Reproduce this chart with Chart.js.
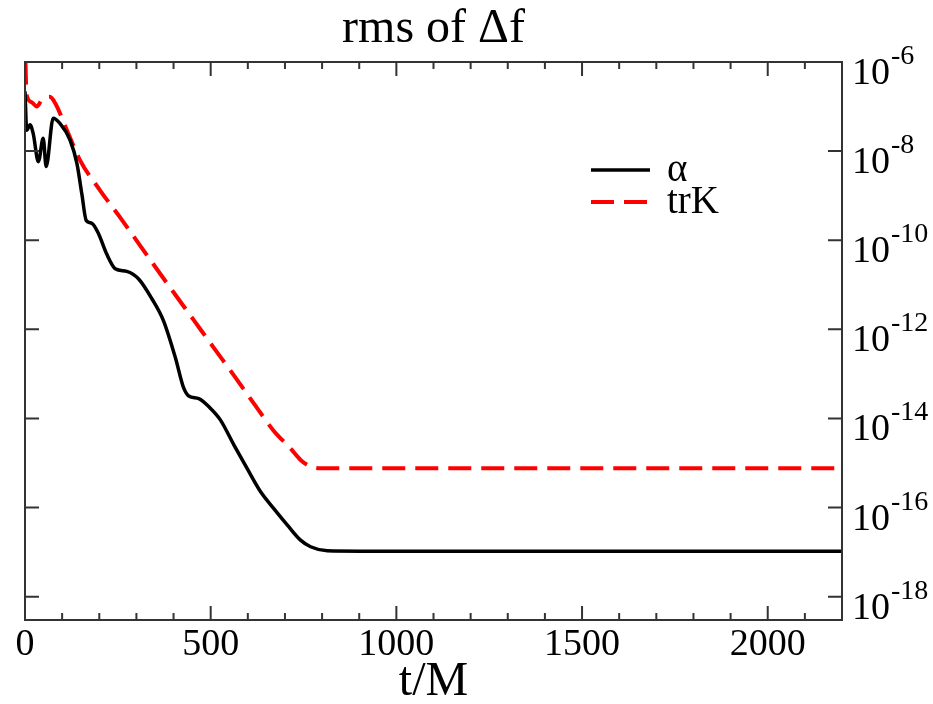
<!DOCTYPE html>
<html>
<head>
<meta charset="utf-8">
<title>rms of Δf</title>
<script src="https://cdn.jsdelivr.net/npm/chart.js@4.4.1/dist/chart.umd.min.js"></script>
<style>
  html, body { margin: 0; padding: 0; background: #fff; }
  #wrap { width: 933px; height: 704px; }
</style>
</head>
<body>
<div id="wrap"><canvas id="rmsChart" width="933" height="704"></canvas></div>
<script>
// rms of the constraint difference for the lapse (alpha) and trK
const tAlpha = [0, 4.6, 13.5, 22, 36, 49, 57, 76, 94, 121, 140, 153, 165, 180, 198, 220, 243, 274, 306, 342,
  373, 405, 427, 441, 468, 499, 526, 562, 598, 634, 670, 706, 742, 769, 814, 904, 1200, 1600, 2000, 2200];
const rmsAlpha = [2.2e-7, 2.95e-8, 3.9e-8, 2.5e-8, 5.8e-9, 1.95e-8, 4.5e-9, 5.5e-8, 4.2e-8, 1.8e-8,
  5.2e-9, 1.1e-9, 2.75e-10, 2.4e-10, 1.4e-10, 4.9e-11, 2.3e-11, 2.0e-11, 1.35e-11, 4.8e-12,
  1.55e-12, 2.3e-13, 4.9e-14, 3.2e-14, 2.8e-14, 1.7e-14, 9.3e-15, 2.6e-15, 7.6e-16, 2.3e-16,
  9.5e-17, 4.1e-17, 1.86e-17, 1.32e-17, 1.07e-17, 1.05e-17, 1.05e-17, 1.05e-17, 1.05e-17, 1.05e-17];

const tTrK = [0, 2.7, 4.6, 18, 32, 45, 67, 81, 113, 148, 202, 256, 310, 364, 400, 454, 508, 562,
  616, 670, 715, 742, 769, 796, 900, 1200, 1600, 2000, 2200];
const rmsTrK = [3.2e-6, 3.4e-7, 1.8e-7, 1.25e-7, 1.0e-7, 1.4e-7, 1.65e-7, 1.2e-7, 2.95e-8, 6.3e-9,
  1.32e-9, 3.25e-10, 7.6e-11, 1.77e-11, 6.8e-12, 1.63e-12, 3.9e-13, 9.4e-14,
  2.19e-14, 5.25e-15, 2.12e-15, 1.17e-15, 8.3e-16, 7.6e-16, 7.6e-16, 7.6e-16, 7.6e-16, 7.6e-16, 7.6e-16];

const seriesNames = ['α', 'trK'];
const xTickValues = [0, 500, 1000, 1500, 2000];
const yExponents = [-6, -8, -10, -12, -14, -16, -18];
const xMinorStep = 100;
const xMajorStep = 500;

const FONT = "'Liberation Serif', 'DejaVu Serif', serif";

function toPoints(xs, ys) {
  return xs.map((x, i) => ({ x: x, y: ys[i] }));
}

// frame, inward ticks, power-of-ten labels and the legend box
const axisDecor = {
  id: 'axisDecor',
  afterDatasetsDraw(chart) {
    const ctx = chart.ctx;
    const a = chart.chartArea;
    const x = chart.scales.x;
    const y = chart.scales.y;
    ctx.save();
    ctx.strokeStyle = '#333';
    ctx.lineWidth = 2;
    ctx.strokeRect(a.left, a.top, a.right - a.left, a.bottom - a.top);

    ctx.beginPath();
    for (let t = x.min; t <= x.max; t += xMinorStep) {
      const px = x.getPixelForValue(t);
      const len = t % xMajorStep === 0 ? 14 : 7;
      ctx.moveTo(px, a.bottom); ctx.lineTo(px, a.bottom - len);
      ctx.moveTo(px, a.top); ctx.lineTo(px, a.top + len);
    }
    for (const e of yExponents) {
      const py = y.getPixelForValue(Math.pow(10, e));
      ctx.moveTo(a.left, py); ctx.lineTo(a.left + 14, py);
      ctx.moveTo(a.right, py); ctx.lineTo(a.right - 14, py);
    }
    ctx.stroke();

    // y labels: 10 with a raised exponent
    ctx.fillStyle = '#000';
    ctx.textAlign = 'left';
    ctx.textBaseline = 'alphabetic';
    for (const e of yExponents) {
      const py = y.getPixelForValue(Math.pow(10, e));
      const lx = a.right + 10;
      ctx.font = '38px ' + FONT;
      ctx.fillText('10', lx, py + 22);
      const w = ctx.measureText('10').width;
      ctx.font = '28px ' + FONT;
      ctx.fillText('-' + Math.abs(e), lx + w + 1, py + 2);
    }

    // legend
    const rows = [170, 202];
    const lx0 = 591, lx1 = 650;
    chart.data.datasets.forEach((ds, i) => {
      ctx.beginPath();
      ctx.strokeStyle = ds.borderColor;
      ctx.lineWidth = ds.borderWidth;
      ctx.setLineDash(ds.borderDash || []);
      ctx.moveTo(lx0, rows[i]);
      ctx.lineTo(lx1, rows[i]);
      ctx.stroke();
      ctx.setLineDash([]);
      ctx.font = '39px ' + FONT;
      ctx.fillStyle = '#000';
      ctx.fillText(ds.label, 667, rows[i] + 11);
    });
    ctx.restore();
  }
};

const ctx = document.getElementById('rmsChart');
const rmsChart = new Chart(ctx, {
  type: 'line',
  data: {
    datasets: [
      {
        label: seriesNames[0],
        data: toPoints(tAlpha, rmsAlpha),
        borderColor: '#000',
        borderWidth: 3.5,
        pointRadius: 0,
        fill: false,
        cubicInterpolationMode: 'monotone'
      },
      {
        label: seriesNames[1],
        data: toPoints(tTrK, rmsTrK),
        borderColor: '#ff0000',
        borderWidth: 4,
        borderDash: [23, 10],
        borderDashOffset: 11,
        pointRadius: 0,
        fill: false,
        cubicInterpolationMode: 'monotone'
      }
    ]
  },
  options: {
    responsive: false,
    animation: false,
    devicePixelRatio: 1,
    layout: { padding: { left: 25, right: 0, top: 0, bottom: 0 } },
    plugins: {
      legend: { display: false },
      tooltip: { enabled: false },
      title: {
        display: true,
        fullSize: false,
        text: 'rms of Δf',
        color: '#000',
        font: { family: FONT, size: 48, weight: 'normal', lineHeight: 1.2 },
        padding: { top: 0.5, bottom: 3.9 }
      }
    },
    scales: {
      x: {
        type: 'linear',
        position: 'bottom',
        min: 0,
        max: 2200,
        grid: { display: false, drawTicks: false },
        border: { display: false },
        afterBuildTicks: (scale) => {
          scale.ticks = xTickValues.map(v => ({ value: v }));
        },
        ticks: {
          maxRotation: 0,
          autoSkip: false,
          padding: 2,
          color: '#000',
          font: { family: FONT, size: 38, lineHeight: 1.2 },
          callback: (v) => String(v)
        },
        title: {
          display: true,
          text: 't/M',
          color: '#000',
          font: { family: FONT, size: 48, lineHeight: 0.9 },
          padding: { top: 0, bottom: 0.5 }
        },
        afterFit: (scale) => { scale.height = 84; }
      },
      y: {
        type: 'logarithmic',
        position: 'right',
        min: 3e-19,
        max: 1e-6,
        grid: { display: false, drawTicks: false },
        border: { display: false },
        ticks: { display: false },
        afterFit: (scale) => { scale.width = 91; }
      }
    }
  },
  plugins: [axisDecor]
});
</script>
</body>
</html>
